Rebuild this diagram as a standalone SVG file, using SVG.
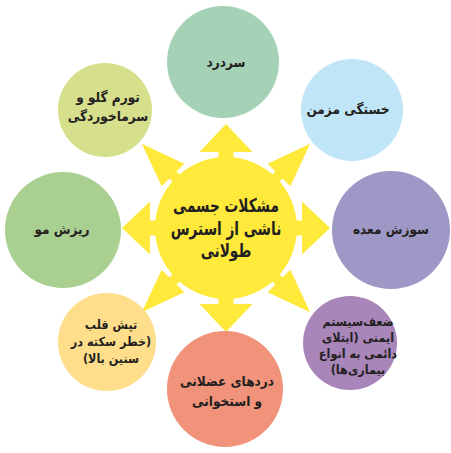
<svg xmlns="http://www.w3.org/2000/svg" xmlns:xlink="http://www.w3.org/1999/xlink" width="451" height="453" viewBox="0 0 451 453">
<style>
.t{font-family:"DejaVu Sans Condensed","DejaVu Sans",sans-serif;font-stretch:condensed;font-weight:bold;fill:#231f20;text-anchor:middle;direction:rtl;unicode-bidi:embed}
.n{font-size:13.5px}
.s{font-size:12.5px}
.c{font-size:19px}
.sun{fill:#ffe93b}
</style>
<defs>
<polygon id="ao" points="-7.5,-60 -7.5,-76 -26.5,-76 0,-104 26.5,-76 7.5,-76 7.5,-60"/>
<polygon id="ad" points="-5,-60 -5,-75 -16,-75 0,-119 16,-75 5,-75 5,-60"/>
</defs>
<rect width="451" height="453" fill="#ffffff"/>
<g id="connectors" class="sun" transform="translate(226,228)">
<use xlink:href="#ao"/>
<use xlink:href="#ao" transform="rotate(90)"/>
<use xlink:href="#ao" transform="rotate(180)"/>
<use xlink:href="#ao" transform="rotate(270)"/>
<use xlink:href="#ad" transform="rotate(45)"/>
<use xlink:href="#ad" transform="rotate(135)"/>
<use xlink:href="#ad" transform="rotate(225)"/>
<use xlink:href="#ad" transform="rotate(315)"/>
</g>
<g id="center">
<circle cx="226" cy="228" r="71" class="sun"/>
<g transform="translate(226,0) scale(0.8,1)">
<text class="t c" x="0" y="212">مشکلات جسمی</text>
<text class="t c" x="0" y="235">ناشی از استرس</text>
<text class="t c" x="0" y="257">طولانی</text>
</g>
</g>
<g id="n1">
<circle cx="223" cy="62" r="56" fill="#a5d1b6"/>
<text class="t n" x="226" y="67">سردرد</text>
</g>
<g id="n2">
<circle cx="352" cy="110" r="51" fill="#c0e5f6"/>
<text class="t n" x="348" y="114">خستگی مزمن</text>
</g>
<g id="n3">
<circle cx="391" cy="230" r="59" fill="#9e98c6"/>
<text class="t n" x="391" y="234">سوزش معده</text>
</g>
<g id="n4">
<circle cx="350" cy="343" r="47" fill="#a886b9"/>
<text class="t s" x="358" y="326">ضعف‌سیستم</text>
<text class="t s" x="358" y="342">ایمنی (ابتلای</text>
<text class="t s" x="358" y="358">دائمی به انواع</text>
<text class="t s" x="358" y="374">بیماری‌ها)</text>
</g>
<g id="n5">
<circle cx="225" cy="389" r="58" fill="#f0937a"/>
<text class="t n" x="227" y="386">دردهای عضلانی</text>
<text class="t n" x="227" y="406">و استخوانی</text>
</g>
<g id="n6">
<circle cx="107" cy="342" r="49" fill="#fedd8b"/>
<text class="t s" x="111" y="329">تپش قلب</text>
<text class="t s" x="111" y="346">(خطر سکته در</text>
<text class="t s" x="111" y="363">سنین بالا)</text>
</g>
<g id="n7">
<circle cx="63" cy="230" r="58" fill="#a9cf91"/>
<text class="t n" x="62" y="234">ریزش مو</text>
</g>
<g id="n8">
<circle cx="105" cy="110" r="47" fill="#d6e08c"/>
<text class="t n" x="108" y="102">تورم گلو و</text>
<text class="t n" x="108" y="121">سرماخوردگی</text>
</g>
</svg>
